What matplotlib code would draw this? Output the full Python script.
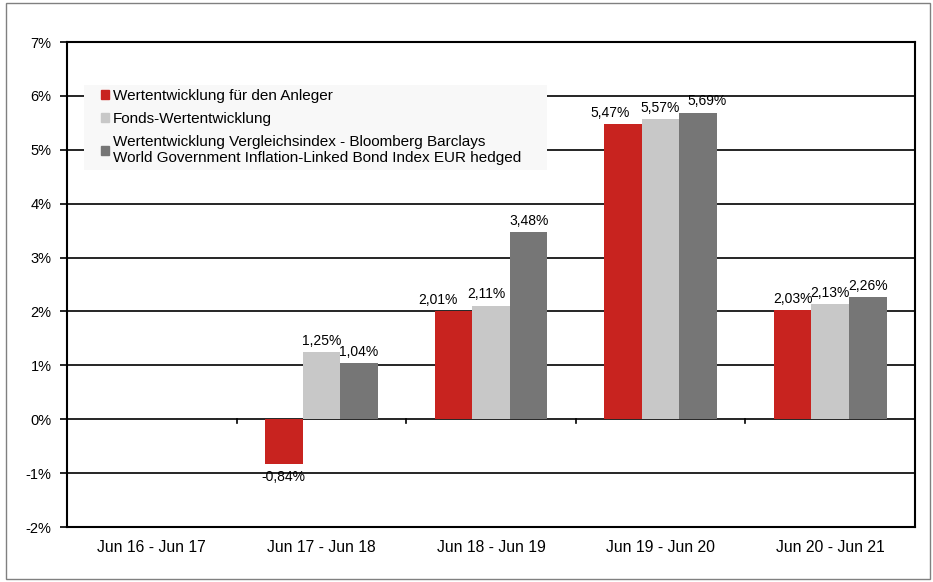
import matplotlib.pyplot as plt
import numpy as np
from matplotlib.patches import Patch, Rectangle

plt.rcParams['font.family'] = ['Liberation Sans', 'DejaVu Sans']

# Daten
zeitraeume = ['Jun 16 - Jun 17', 'Jun 17 - Jun 18', 'Jun 18 - Jun 19', 'Jun 19 - Jun 20', 'Jun 20 - Jun 21']
anleger = [np.nan, -0.84, 2.01, 5.47, 2.03]
fonds = [np.nan, 1.25, 2.11, 5.57, 2.13]
index = [np.nan, 1.04, 3.48, 5.69, 2.26]
serien_namen = ['Wertentwicklung für den Anleger',
                'Fonds-Wertentwicklung',
                'Wertentwicklung Vergleichsindex - Bloomberg Barclays\nWorld Government Inflation-Linked Bond Index EUR hedged']
farben = ['#C8231F', '#C8C8C8', '#767676']
y_ticks = list(range(-2, 8))

# kleine seitliche Verschiebung der Beschriftungen (in Punkt), damit sie sich nicht überlappen
nudge = [[0, 0, -11, -9.5, 0],
         [0, 0, -3, 0, 0],
         [0, 0, 0, 6, 0]]

fig = plt.figure(figsize=(9.33, 5.82), dpi=100)
ax = fig.add_axes([0.0718, 0.0945, 0.9089, 0.8333])

# Rahmen um die Grafik
fig.patches.append(Rectangle((0.006, 0.006), 0.991, 0.988, transform=fig.transFigure,
                             fill=False, edgecolor='#808080', linewidth=1.0))

x = np.arange(len(zeitraeume))
breite = 0.222
for i, (werte, farbe) in enumerate(zip([anleger, fonds, index], farben)):
    pos = x + (i - 1) * breite
    ax.bar(pos, werte, width=breite, color=farbe, zorder=3)
    for j, (p, v) in enumerate(zip(pos, werte)):
        if np.isnan(v):
            continue
        txt = f'{v:.2f}%'.replace('.', ',')
        if v >= 0:
            ax.annotate(txt, (p, v), xytext=(nudge[i][j], 3), textcoords='offset points',
                        ha='center', va='bottom', fontsize=10)
        else:
            ax.annotate(txt, (p, v), xytext=(nudge[i][j], -4), textcoords='offset points',
                        ha='center', va='top', fontsize=10)

ax.set_xlim(-0.5, len(zeitraeume) - 0.5)
ax.set_ylim(-2, 7)
ax.set_yticks(y_ticks)
ax.set_yticklabels([f'{t}%' for t in y_ticks], fontsize=10.5)
ax.yaxis.grid(True, color='black', linewidth=1.2, zorder=1)
ax.set_axisbelow(True)

ax.set_xticks(x)
ax.set_xticklabels(zeitraeume, fontsize=11.3)
ax.tick_params(axis='x', length=0, pad=9)
ax.tick_params(axis='y', length=5, width=1.2, pad=6)

for s in ax.spines.values():
    s.set_linewidth(1.5)
    s.set_color('black')

# Kategorie-Trennstriche an der Nulllinie
for b in np.arange(0.5, len(zeitraeume) - 1, 1.0):
    ax.plot([b, b], [0, -0.07], color='black', linewidth=1.2, zorder=4, clip_on=False)

# Legende mit hellem Hintergrund
ax.add_patch(Rectangle((0.020, 0.736), 0.546, 0.175, transform=ax.transAxes,
                       facecolor='#F8F8F8', edgecolor='none', zorder=4))
handles = [Patch(color=f) for f in farben]
leg = ax.legend(handles, serien_namen, loc='upper left', bbox_to_anchor=(0.040, 0.904),
                fontsize=11, frameon=False, handlelength=0.55, handleheight=0.55,
                handletextpad=0.25, labelspacing=0.6, borderpad=0, borderaxespad=0)
leg.set_zorder(5)

fig.savefig('out.png', dpi=100)
